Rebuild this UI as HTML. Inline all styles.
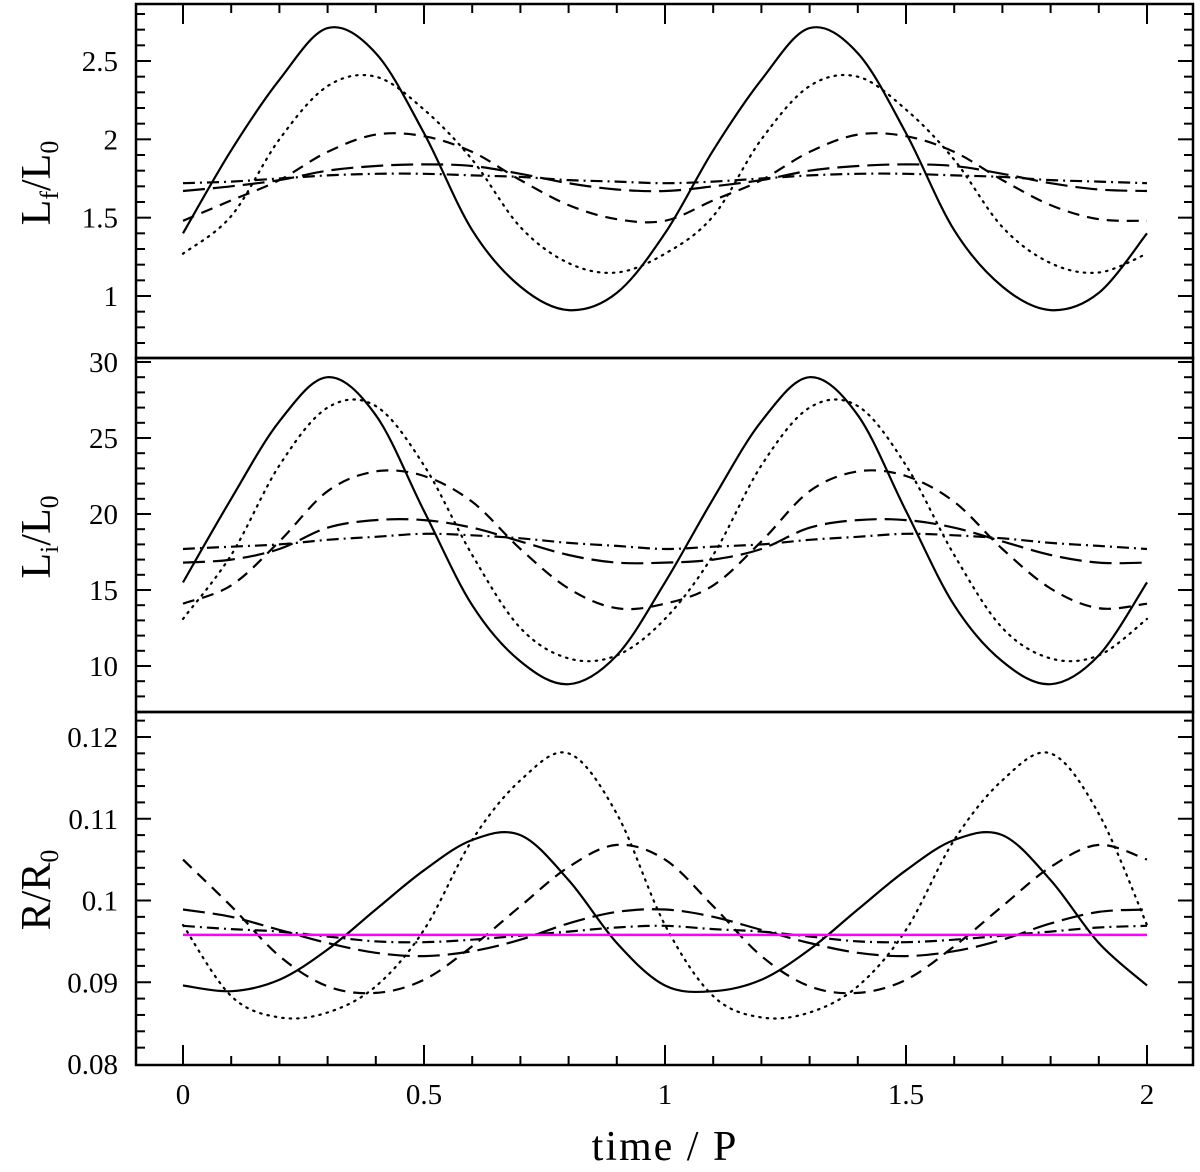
<!DOCTYPE html>
<html><head><meta charset="utf-8"><style>
html,body{margin:0;padding:0;background:#fff;}
svg{display:block;}
text{font-family:"Liberation Serif","DejaVu Serif",serif;fill:#000;}
</style></head><body>
<svg id="chart" width="1200" height="1172" viewBox="0 0 1200 1172" xmlns="http://www.w3.org/2000/svg"></svg>
<script>
// time samples (t / P)
const times = [0,0.1,0.2,0.3,0.4,0.5,0.6,0.7,0.8,0.9,1.0,1.1,1.2,1.3,1.4,1.5,1.6,1.7,1.8,1.9,2.0];
// Panel 1: Lf/L0
const lfSolid   = [1.40,1.93,2.38,2.71,2.55,2.04,1.42,1.06,0.91,1.02,1.40,1.93,2.38,2.71,2.55,2.04,1.42,1.06,0.91,1.02,1.40];
const lfDotted  = [1.27,1.51,2.00,2.34,2.40,2.19,1.87,1.44,1.21,1.15,1.27,1.51,2.00,2.34,2.40,2.19,1.87,1.44,1.21,1.15,1.27];
const lfDashed  = [1.48,1.61,1.74,1.92,2.03,2.02,1.92,1.74,1.58,1.49,1.48,1.61,1.74,1.92,2.03,2.02,1.92,1.74,1.58,1.49,1.48];
const lfLong    = [1.67,1.70,1.74,1.80,1.83,1.84,1.83,1.78,1.72,1.68,1.67,1.70,1.74,1.80,1.83,1.84,1.83,1.78,1.72,1.68,1.67];
const lfDashDot = [1.72,1.73,1.75,1.77,1.78,1.78,1.77,1.76,1.74,1.73,1.72,1.73,1.75,1.77,1.78,1.78,1.77,1.76,1.74,1.73,1.72];
// Panel 2: Li/L0
const liSolid   = [15.5,21.0,26.1,29.0,26.5,20.2,14.0,10.3,8.8,10.7,15.5,21.0,26.1,29.0,26.5,20.2,14.0,10.3,8.8,10.7,15.5];
const liDotted  = [13.1,17.3,23.2,27.0,27.1,23.2,17.3,12.5,10.5,10.7,13.1,17.3,23.2,27.0,27.1,23.2,17.3,12.5,10.5,10.7,13.1];
const liDashed  = [14.1,15.3,18.2,21.5,22.8,22.5,20.8,17.7,15.1,13.8,14.1,15.3,18.2,21.5,22.8,22.5,20.8,17.7,15.1,13.8,14.1];
const liLong    = [16.8,17.0,17.7,19.1,19.6,19.6,19.1,18.2,17.3,16.8,16.8,17.0,17.7,19.1,19.6,19.6,19.1,18.2,17.3,16.8,16.8];
const liDashDot = [17.7,17.85,18.0,18.3,18.5,18.7,18.6,18.4,18.1,17.9,17.7,17.85,18.0,18.3,18.5,18.7,18.6,18.4,18.1,17.9,17.7];
// Panel 3: R/R0
const rSolid    = [0.0896,0.0889,0.0903,0.0940,0.0989,0.1037,0.1074,0.1080,0.1025,0.0948,0.0896,0.0889,0.0903,0.0940,0.0989,0.1037,0.1074,0.1080,0.1025,0.0948,0.0896];
const rDotted   = [0.0970,0.0883,0.0857,0.0863,0.0895,0.0964,0.1074,0.1147,0.1180,0.1106,0.0970,0.0883,0.0857,0.0863,0.0895,0.0964,0.1074,0.1147,0.1180,0.1106,0.0970];
const rDashed   = [0.1050,0.0993,0.0932,0.0895,0.0887,0.0903,0.0944,0.0993,0.1041,0.1068,0.1050,0.0993,0.0932,0.0895,0.0887,0.0903,0.0944,0.0993,0.1041,0.1068,0.1050];
const rLong     = [0.0989,0.0980,0.0964,0.0948,0.0936,0.0932,0.0938,0.0952,0.0972,0.0986,0.0989,0.0980,0.0964,0.0948,0.0936,0.0932,0.0938,0.0952,0.0972,0.0986,0.0989];
const rDashDot  = [0.0969,0.0965,0.0962,0.0956,0.0950,0.0949,0.0952,0.0957,0.0962,0.0967,0.0969,0.0965,0.0962,0.0956,0.0950,0.0949,0.0952,0.0957,0.0962,0.0967,0.0969];
const rRef      = [0.0958,0.0958];
const rRefTimes = [0,2];
// tick labels
const xTickLabels = ["0","0.5","1","1.5","2"];
const xTickValues = [0,0.5,1,1.5,2];
const p1Ticks = [1,1.5,2,2.5];
const p1Labels = ["1","1.5","2","2.5"];
const p2Ticks = [10,15,20,25,30];
const p2Labels = ["10","15","20","25","30"];
const p3Ticks = [0.08,0.09,0.1,0.11,0.12];
const p3Labels = ["0.08","0.09","0.1","0.11","0.12"];

const NS="http://www.w3.org/2000/svg";
const svg=document.getElementById('chart');
const L=136,R=1193;
const xScale=t=>183+t*482;
function mk(tag,attrs,parent){const e=document.createElementNS(NS,tag);for(const k in attrs)e.setAttribute(k,attrs[k]);(parent||svg).appendChild(e);return e;}
function yScaleFn(v0,y0,v1,y1){return v=>y0+(v-v0)*(y1-y0)/(v1-v0);}

const panels=[
 {name:'lf-panel',top:4,bot:358,ys:yScaleFn(2.5,61,1,296),ticks:p1Ticks,labels:p1Labels,minor:0.1,min:0.6,max:2.87,
  series:[[lfSolid,'solid'],[lfDotted,'dotted'],[lfDashed,'dashed'],[lfLong,'long-dash'],[lfDashDot,'dash-dot']]},
 {name:'li-panel',top:358,bot:712,ys:yScaleFn(30,362,10,666),ticks:p2Ticks,labels:p2Labels,minor:1,min:7,max:30.2,
  series:[[liSolid,'solid'],[liDotted,'dotted'],[liDashed,'dashed'],[liLong,'long-dash'],[liDashDot,'dash-dot']]},
 {name:'r-panel',top:712,bot:1065,ys:yScaleFn(0.12,737,0.08,1064),ticks:p3Ticks,labels:p3Labels,minor:0.002,min:0.0796,max:0.123,
  series:[[rSolid,'solid'],[rDotted,'dotted'],[rDashed,'dashed'],[rLong,'long-dash'],[rDashDot,'dash-dot']]}
];
const dashes={solid:null,dotted:'1.5 6','dashed':'12 8','long-dash':'22 8','dash-dot':'12 5 2 5'};

function smoothPath(xs,ys){
  const pts=xs.map((x,i)=>[x,ys[i]]);
  let d='M'+pts[0][0].toFixed(1)+','+pts[0][1].toFixed(1);
  for(let i=0;i<pts.length-1;i++){
    const p0=pts[Math.max(0,i-1)],p1=pts[i],p2=pts[i+1],p3=pts[Math.min(pts.length-1,i+2)];
    const c1=[p1[0]+(p2[0]-p0[0])/6,p1[1]+(p2[1]-p0[1])/6];
    const c2=[p2[0]-(p3[0]-p1[0])/6,p2[1]-(p3[1]-p1[1])/6];
    d+=' C'+c1[0].toFixed(1)+','+c1[1].toFixed(1)+' '+c2[0].toFixed(1)+','+c2[1].toFixed(1)+' '+p2[0].toFixed(1)+','+p2[1].toFixed(1);
  }
  return d;
}

panels.forEach((p,pi)=>{
  const g=mk('g',{});
  
  
  p.series.forEach(([vals,style])=>{
    const path=mk('path',{d:smoothPath(times.map(xScale),vals.map(p.ys)),fill:'none',stroke:'#000','stroke-width':2.2,'stroke-linecap':style==='dotted'?'round':'butt'},g);
    if(dashes[style])path.setAttribute('stroke-dasharray',dashes[style]);
    
    
  });
  if(pi===2){
    const ref=mk('path',{d:'M'+xScale(rRefTimes[0])+','+p.ys(rRef[0])+' L'+xScale(rRefTimes[1])+','+p.ys(rRef[1]),stroke:'#ff00ff','stroke-width':2.5,fill:'none'},g);
    
    
  }
  const nMin=Math.ceil(p.min/p.minor-1e-6),nMax=Math.floor(p.max/p.minor+1e-6);
  for(let n=nMin;n<=nMax;n++){
    const v=n*p.minor;const y=p.ys(v);
    if(y<p.top+2||y>p.bot-2)continue;
    const major=p.ticks.some(t=>Math.abs(t-v)<p.minor*0.1);
    const len=major?15:9;
    mk('line',{x1:L,x2:L+len,y1:y,y2:y,stroke:'#000','stroke-width':2},g);
    mk('line',{x1:R,x2:R-len,y1:y,y2:y,stroke:'#000','stroke-width':2},g);
  }
  p.ticks.forEach((v,i)=>{
    const t=mk('text',{x:118,y:p.ys(v)+10,'text-anchor':'end','font-size':29},g);
    t.textContent=p.labels[i];
    
    
  });
  const fr=mk('rect',{x:L,y:p.top,width:R-L,height:p.bot-p.top,fill:'none',stroke:'#000','stroke-width':2.5},g);
  
  
});

for(let n=0;n<=20;n++){
  const t=n/10;const x=xScale(t);const major=(n%5===0);const len=major?20:9;
  mk('line',{x1:x,x2:x,y1:4,y2:4+len,stroke:'#000','stroke-width':2});
  mk('line',{x1:x,x2:x,y1:1065,y2:1065-len,stroke:'#000','stroke-width':2});
}
xTickValues.forEach((v,i)=>{
  const t=mk('text',{x:xScale(v),y:1104,'text-anchor':'middle','font-size':29});
  t.textContent=xTickLabels[i];
  
  
});
const xt=mk('text',{x:665,y:1160,'text-anchor':'middle','font-size':42,'letter-spacing':'2'});
xt.textContent='time / P';



function yTitle(cy,html,name){
  const t=mk('text',{x:0,y:0,'font-size':42,'text-anchor':'middle',transform:'translate(50,'+cy+') rotate(-90)'});
  t.innerHTML=html;
  
  
}
yTitle(183,'L<tspan font-size="26" dy="8">f</tspan><tspan dy="-8">/L</tspan><tspan font-size="26" dy="8">0</tspan>','lf-axis-title');
yTitle(537,'L<tspan font-size="26" dy="8">i</tspan><tspan dy="-8">/L</tspan><tspan font-size="26" dy="8">0</tspan>','li-axis-title');
yTitle(890,'R/R<tspan font-size="26" dy="8">0</tspan>','r-axis-title');
</script>
</body></html>
